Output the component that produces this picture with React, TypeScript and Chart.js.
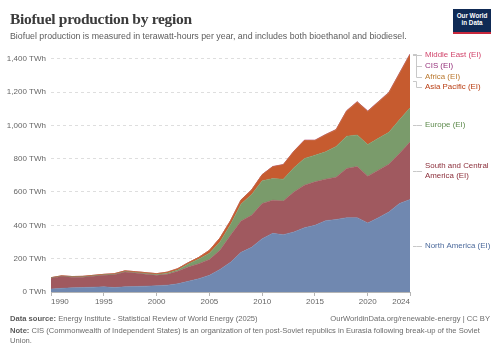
import React, { useEffect, useRef } from "react";
import { Chart, registerables } from "chart.js";

Chart.register(...registerables);

const years = [
  1990, 1991, 1992, 1993, 1994, 1995, 1996, 1997, 1998, 1999,
  2000, 2001, 2002, 2003, 2004, 2005, 2006, 2007, 2008, 2009,
  2010, 2011, 2012, 2013, 2014, 2015, 2016, 2017, 2018, 2019,
  2020, 2021, 2022, 2023, 2024,
];

const northAmerica = [
  18, 22, 25, 27, 29, 31, 27, 31, 33, 35,
  38, 41, 49, 64, 80, 100, 135, 178, 238, 268,
  320, 352, 344, 360, 386, 400, 428, 435, 446, 446,
  414, 446, 480, 531, 555,
];
const southCentralAmerica = [
  65, 71, 64, 62, 65, 69, 76, 89, 81, 72,
  62, 65, 75, 86, 90, 95, 115, 162, 188, 192,
  211, 199, 202, 240, 255, 261, 249, 254, 295, 307,
  281, 285, 287, 300, 345,
];
const europe = [
  2, 2, 2, 2, 3, 3, 3, 3, 3, 4,
  5, 7, 8, 18, 28, 38, 50, 65, 102, 125,
  136, 130, 131, 145, 160, 160, 164, 184, 194, 189,
  190, 191, 191, 202, 205,
];
const asiaPacific = [
  0.8, 1.8, 1.8, 2.8, 2.8, 2.8, 3.8, 3.8, 4.8, 4.8,
  4.8, 5.8, 7.8, 7.8, 9.6, 16.5, 23.3, 22, 23.7, 26.5,
  36.2, 69.9, 85.8, 97.6, 107.3, 87.5, 101.4, 99.2, 149.9, 196.7,
  197.7, 216.3, 236, 275.6, 318.3,
];
const africa = [
  0.2, 0.2, 0.2, 0.2, 0.2, 0.2, 0.2, 0.2, 0.2, 0.2,
  0.2, 0.2, 0.2, 0.2, 0.3, 0.3, 0.3, 0.4, 0.4, 0.5,
  0.5, 0.6, 0.6, 0.7, 0.8, 0.8, 0.9, 0.9, 1.0, 1.1,
  1.0, 1.1, 1.2, 1.3, 1.4,
];
const cis = [
  0, 0, 0, 0, 0, 0, 0, 0, 0, 0,
  0, 0, 0, 0, 0.1, 0.2, 0.4, 0.6, 0.9, 1.0,
  1.2, 1.4, 1.5, 1.6, 1.8, 1.6, 1.6, 1.7, 1.9, 2.0,
  2.1, 2.3, 2.5, 2.7, 2.9,
];
const middleEast = [
  0, 0, 0, 0, 0, 0, 0, 0, 0, 0,
  0, 0, 0, 0, 0, 0, 0, 0, 0, 0,
  0.1, 0.1, 0.1, 0.1, 0.1, 0.1, 0.1, 0.2, 0.2, 0.2,
  0.2, 0.3, 0.3, 0.4, 0.4,
];

const xTickYears = [1990, 1995, 2000, 2005, 2010, 2015, 2020, 2024];
const yTickValues = [0, 200, 400, 600, 800, 1000, 1200, 1400];

// bottom-to-top stacking order
const SERIES = [
  { lines: ["North America (EI)"], values: northAmerica, fill: "#7088b0", text: "#4c6a9c" },
  { lines: ["South and Central", "America (EI)"], values: southCentralAmerica, fill: "#a0595f", text: "#8b2e3a" },
  { lines: ["Europe (EI)"], values: europe, fill: "#7a9b6b", text: "#5d8a4c" },
  { lines: ["Asia Pacific (EI)"], values: asiaPacific, fill: "#c65b2f", text: "#b83d12" },
  { lines: ["Africa (EI)"], values: africa, fill: "#c4873f", text: "#b9782f" },
  { lines: ["CIS (EI)"], values: cis, fill: "#a2518f", text: "#95307a" },
  { lines: ["Middle East (EI)"], values: middleEast, fill: "#d2506f", text: "#d2446b" },
];

const FONT = '"Liberation Sans", Arial, Helvetica, sans-serif';

const labelPlugin = {
  id: "seriesLabels",
  afterDraw(chart: any) {
    const ctx = chart.ctx;
    const ys = chart.scales.y;
    const area = chart.chartArea;
    const last = years.length - 1;
    const lineH = 10.4;
    let cum = 0;
    const items: any[] = [];
    SERIES.forEach((s) => {
      const v = s.values[last];
      const mid = cum + v / 2;
      cum += v;
      const py = ys.getPixelForValue(mid);
      items.push({ ...s, dataY: py, desired: py, h: s.lines.length * lineH });
    });
    items.reverse();
    let prev: any = null;
    items.forEach((it) => {
      if (!prev) {
        it.y = Math.max(it.desired, area.top - 2 + it.h / 2);
      } else {
        it.y = Math.max(it.desired, prev.y + (prev.h + it.h) / 2 + 0.3);
      }
      prev = it;
    });
    ctx.save();
    ctx.font = `7.9px ${FONT}`;
    ctx.textBaseline = "middle";
    ctx.textAlign = "left";
    const x0 = area.right + 3;
    const xe = area.right + 6.5;
    const x1 = area.right + 12;
    const tx = area.right + 15;
    items.forEach((it) => {
      ctx.strokeStyle = "#c8c8c8";
      ctx.lineWidth = 1;
      ctx.beginPath();
      ctx.moveTo(x0, Math.round(it.dataY) + 0.5);
      ctx.lineTo(xe, Math.round(it.dataY) + 0.5);
      ctx.lineTo(xe, Math.round(it.y) + 0.5);
      ctx.lineTo(x1, Math.round(it.y) + 0.5);
      ctx.stroke();
      ctx.fillStyle = it.text;
      const n = it.lines.length;
      it.lines.forEach((ln: string, i: number) => {
        ctx.fillText(ln, tx, it.y + (i - (n - 1) / 2) * lineH);
      });
    });
    ctx.restore();
  },
};

function ChartCanvas() {
  const ref = useRef<HTMLCanvasElement | null>(null);
  useEffect(() => {
    if (!ref.current) return;
    const datasets = SERIES.map((s, i) => ({
      label: s.lines.join(" "),
      data: years.map((yr, j) => ({ x: yr, y: s.values[j] })),
      backgroundColor: s.fill,
      borderColor: s.fill,
      borderWidth: 0.5,
      pointRadius: 0,
      pointHoverRadius: 0,
      tension: 0,
      fill: i === 0 ? "origin" : "-1",
    }));
    const chart = new Chart(ref.current, {
      type: "line",
      data: { datasets },
      plugins: [labelPlugin],
      options: {
        responsive: false,
        animation: false,
        devicePixelRatio: 1,
        layout: { padding: { left: 0, right: 90, top: 52, bottom: 41 } },
        plugins: {
          legend: { display: false },
          tooltip: { enabled: false },
          title: { display: false },
        },
        scales: {
          x: {
            type: "linear",
            min: years[0],
            max: years[years.length - 1],
            z: 2,
            afterBuildTicks: (scale: any) => {
              scale.ticks = xTickYears.map((v) => ({ value: v }));
            },
            afterFit: (scale: any) => {
              scale.height = 20;
            },
            ticks: {
              autoSkip: false,
              maxRotation: 0,
              align: "inner",
              padding: 1,
              color: "#666",
              font: { family: FONT, size: 8 },
              callback: (v: any) => String(v),
            },
            grid: {
              drawOnChartArea: false,
              drawTicks: true,
              tickLength: 4,
              color: "#b5b5b5",
            },
            border: { display: true, color: "#b5b5b5", width: 1 },
          },
          y: {
            type: "linear",
            stacked: true,
            min: 0,
            max: 1440,
            z: 1,
            afterBuildTicks: (scale: any) => {
              scale.ticks = yTickValues.map((v) => ({ value: v }));
            },
            afterFit: (scale: any) => {
              scale.width = 51;
            },
            ticks: {
              padding: 5,
              color: "#666",
              font: { family: FONT, size: 8 },
              callback: (v: any) => Number(v).toLocaleString("en-US") + " TWh",
            },
            grid: {
              drawTicks: false,
              color: "rgba(0,0,0,0.13)",
              lineWidth: 1,
            },
            border: { display: false, dash: [3, 3] },
          },
        },
      },
    } as any);
    return () => chart.destroy();
  }, []);
  return (
    <canvas
      ref={ref}
      width={500}
      height={353}
      style={{ position: "absolute", left: 0, top: 0, width: 500, height: 353 }}
    />
  );
}

export default function App() {
  return (
    <div
      style={{
        position: "absolute",
        left: 0,
        top: 0,
        width: 500,
        height: 353,
        background: "#fff",
        overflow: "hidden",
        fontFamily: FONT,
      }}
    >
      <ChartCanvas />
      <div
        style={{
          position: "absolute",
          left: 10,
          top: 11,
          fontFamily: '"Liberation Serif", "Times New Roman", serif',
          fontWeight: 700,
          fontSize: 15.5,
          letterSpacing: -0.3,
          lineHeight: "16px",
          color: "#3b3b3b",
          whiteSpace: "nowrap",
        }}
      >
        Biofuel production by region
      </div>
      <div
        style={{
          position: "absolute",
          left: 10,
          top: 31,
          fontSize: 8.8,
          lineHeight: "10px",
          color: "#5b5b5b",
          whiteSpace: "nowrap",
        }}
      >
        Biofuel production is measured in terawatt-hours per year, and includes both bioethanol and biodiesel.
      </div>
      <div
        style={{
          position: "absolute",
          left: 453,
          top: 9,
          width: 38,
          height: 20,
          background: "#0f2a55",
          borderBottom: "2px solid #c8283c",
          color: "#fff",
          fontWeight: 700,
          fontSize: 6.3,
          lineHeight: "7px",
          textAlign: "center",
          paddingTop: 3,
          boxSizing: "content-box",
        }}
      >
        <div style={{ marginTop: 0 }}>Our World</div>
        <div>in Data</div>
      </div>
      <div
        style={{
          position: "absolute",
          left: 10,
          top: 314,
          fontSize: 7.6,
          lineHeight: "9.6px",
          color: "#6b6b6b",
          whiteSpace: "nowrap",
        }}
      >
        <b style={{ color: "#5b5b5b" }}>Data source:</b> Energy Institute - Statistical Review of World Energy (2025)
      </div>
      <div
        style={{
          position: "absolute",
          right: 10,
          top: 314,
          fontSize: 7.6,
          lineHeight: "9.6px",
          color: "#6b6b6b",
          whiteSpace: "nowrap",
        }}
      >
        OurWorldinData.org/renewable-energy | CC BY
      </div>
      <div
        style={{
          position: "absolute",
          left: 10,
          top: 326,
          width: 482,
          fontSize: 7.6,
          lineHeight: "9.6px",
          color: "#6b6b6b",
        }}
      >
        <b style={{ color: "#5b5b5b" }}>Note:</b> CIS (Commonwealth of Independent States) is an organization of ten post-Soviet republics in Eurasia following break-up of the Soviet Union.
      </div>
    </div>
  );
}
